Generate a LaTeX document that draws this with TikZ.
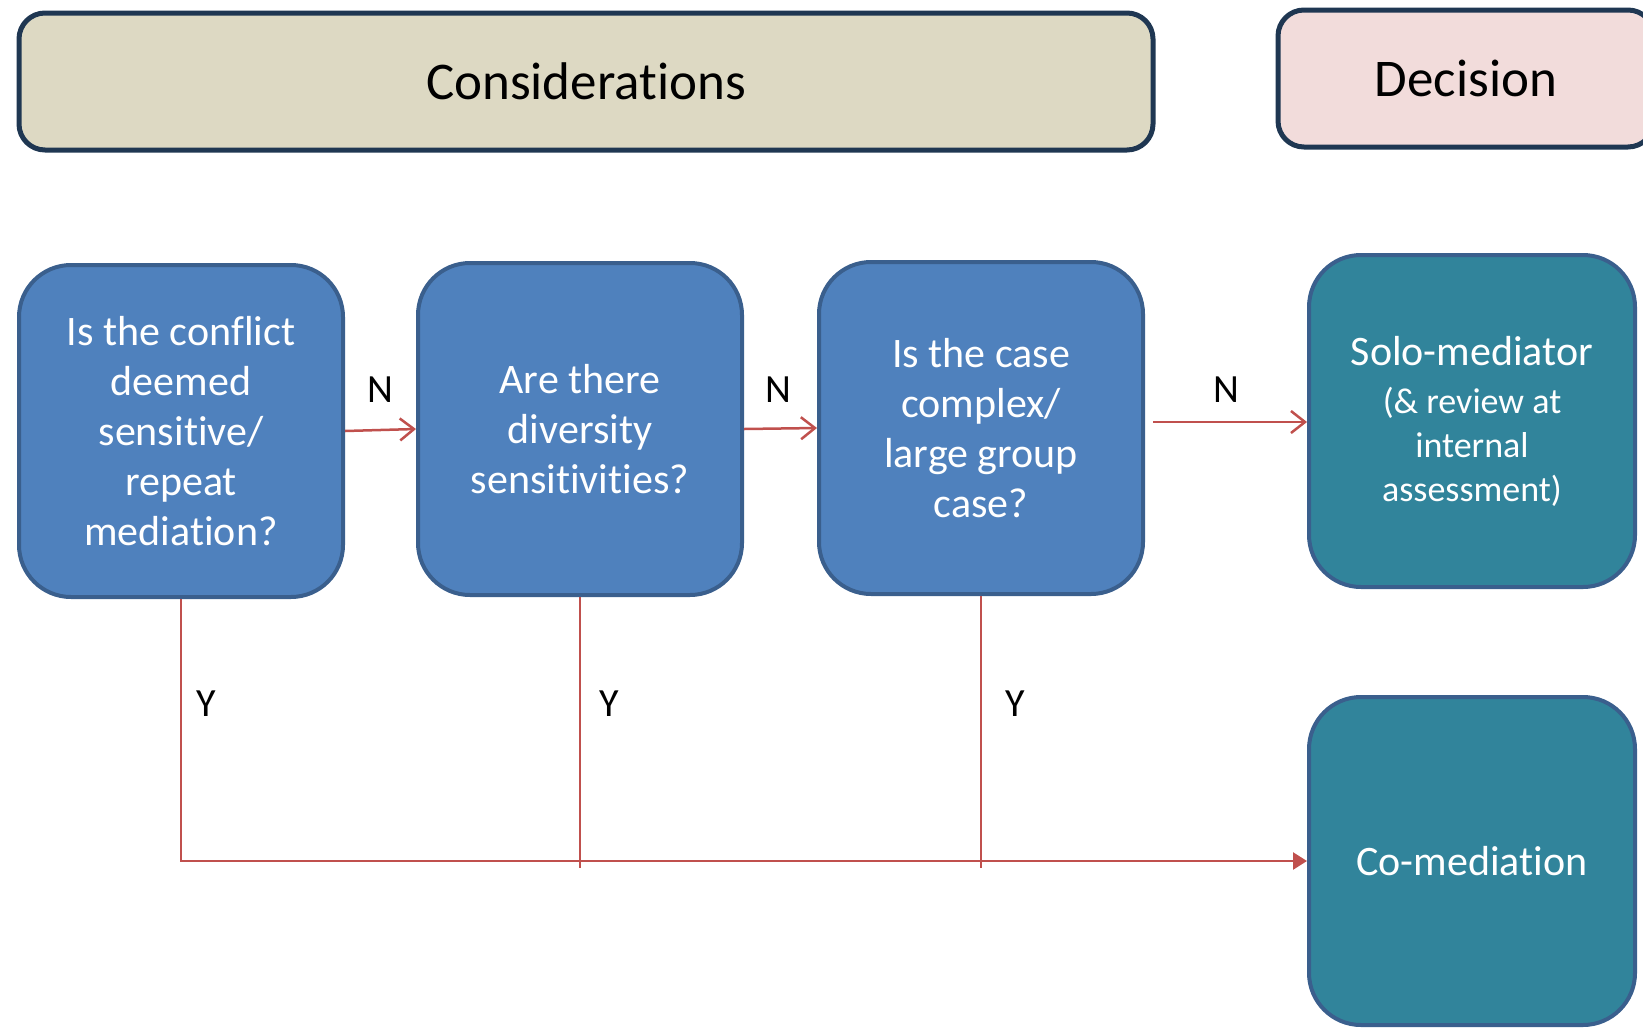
\documentclass[tikz,border=0pt]{standalone}
\usepackage{fontspec}
\setmainfont[Ligatures=NoCommon]{Carlito}
\usetikzlibrary{arrows.meta}
\definecolor{hdrfill}{HTML}{DDD9C3}
\definecolor{decfill}{HTML}{F2DCDB}
\definecolor{hdrline}{HTML}{1F3752}
\definecolor{qfill}{HTML}{4F81BD}
\definecolor{qline}{HTML}{3A5F8D}
\definecolor{tfill}{HTML}{31849B}
\definecolor{conn}{HTML}{C0504D}
\tikzset{
  header/.style={draw=hdrline, line width=5pt, rounded corners=26pt, inner sep=0pt,
    font=\fontsize{53}{60}\selectfont, text=black},
  qbox/.style={draw=qline, fill=qfill, line width=4pt, rounded corners=52pt, inner sep=0pt,
    minimum width=324pt, minimum height=332pt, align=center, text=white,
    font=\fontsize{42}{50}\selectfont},
  dbox/.style={draw=qline, fill=tfill, line width=4pt, rounded corners=52pt, inner sep=0pt,
    minimum width=326pt, minimum height=330pt, align=center, text=white},
  narrow/.style={draw=conn, line width=2.5pt, -{Straight Barb[length=14pt,width=22pt,line width=2.5pt]}},
  yline/.style={draw=conn, line width=2.5pt},
  yarrow/.style={draw=conn, line width=2.5pt, -{Triangle[length=14pt,width=17pt]}},
  lbl/.style={font=\fontsize{40}{48}\selectfont, text=black, inner sep=0pt}
}
\begin{document}
\begin{tikzpicture}[x=1pt,y=-1pt]
\useasboundingbox (0,0) rectangle (1643,1028);
\clip (0,0) rectangle (1643,1028);

% headers
\node[header, fill=hdrfill, minimum width=1134pt, minimum height=137pt] (cons) at (586,81.5) {Considerations};
\node[header, fill=decfill, minimum width=376pt, minimum height=137pt] (dec) at (1466,78.5) {Decision};

% question boxes
\node[qbox] (b1) at (181,431) {Is the conflict\\ deemed\\ sensitive/\\ repeat\\ mediation?};
\node[qbox] (b2) at (580,429) {Are there\\ diversity\\ sensitivities?};
\node[qbox] (b3) at (981,428) {Is the case\\ complex/\\ large group\\ case?};

% decision boxes
\node[dbox, minimum height=332pt, font=\fontsize{36}{44}\selectfont] (solo) at (1472,421)
  {{\fontsize{42}{44}\selectfont Solo-mediator}\\[4pt] (\& review at\\ internal\\ assessment)};
\node[dbox, minimum height=328pt, font=\fontsize{42}{50}\selectfont] (co) at (1472,861) {\raisebox{-3pt}{Co-mediation}};

% N arrows
\draw[narrow] (b1.east) -- (b2.west);
\draw[narrow] (b2.east) -- (b3.west);
\coordinate (n3s) at (1153,422);
\draw[narrow] (n3s) -- (solo.west |- n3s);

\node[lbl] (n1) at (380,390) {N};
\node[lbl] (n2) at (778,390) {N};
\node[lbl] (n3) at (1226,390) {N};

% Y connectors
\coordinate (c1) at (b1.south |- co.west);
\coordinate (e2) at (580,868);
\coordinate (e3) at (981,868);
\draw[yline] (b2.south) -- (e2);
\draw[yline] (b3.south) -- (e3);
\draw[yarrow] (b1.south) -- (c1) -- (co.west);

\node[lbl] (y1) at (206,704) {Y};
\node[lbl] (y2) at (609,704) {Y};
\node[lbl] (y3) at (1015,704) {Y};
\end{tikzpicture}
\end{document}
